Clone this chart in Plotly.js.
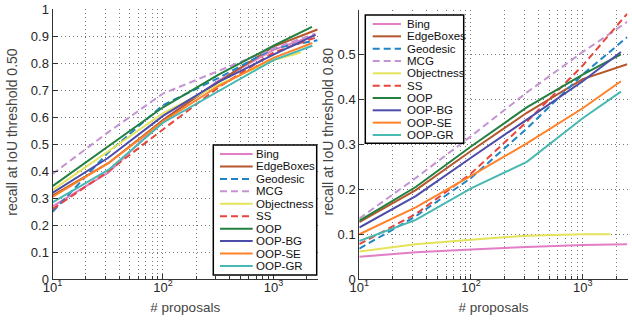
<!DOCTYPE html>
<html><head><meta charset="utf-8">
<script src="https://cdn.plot.ly/plotly-3.0.1.min.js"></script>
<style>html,body{margin:0;padding:0;background:#fff;}#chart{width:632px;height:324px;}</style>
</head><body><div id="chart"></div>
<script>
// ---- data ----
const methods = ['Bing','EdgeBoxes','Geodesic','MCG','Objectness','SS','OOP','OOP-BG','OOP-SE','OOP-GR'];
const proposals = [10, 32, 100, 316, 1000];
const lastProposals50 = [2400, 2500, 2500, 2400, 1770, 2400, 2230, 2400, 2250, 2250];
const lastProposals80 = [2500, 2500, 2500, 2500, 1770, 2500, 2200, 2200, 2200, 2200];

// recall at IoU 0.50 (left)
const bing50       = [0.270, 0.395, 0.590, 0.735, 0.850, 0.905];
const edgeBoxes50  = [0.310, 0.430, 0.590, 0.730, 0.862, 0.925];
const geodesic50   = [0.250, 0.470, 0.645, 0.745, 0.855, 0.885];
const mcg50        = [0.390, 0.545, 0.688, 0.770, 0.855, 0.910];
const objectness50 = [0.330, 0.475, 0.615, 0.720, 0.812, 0.840];
const ss50         = [0.260, 0.400, 0.555, 0.710, 0.840, 0.895];
const oop50        = [0.345, 0.493, 0.637, 0.757, 0.865, 0.935];
const oopBG50      = [0.320, 0.450, 0.605, 0.730, 0.832, 0.905];
const oopSE50      = [0.305, 0.430, 0.585, 0.715, 0.820, 0.875];
const oopGR50      = [0.285, 0.405, 0.580, 0.695, 0.812, 0.865];

// recall at IoU 0.80 (right)
const bing80       = [0.050, 0.060, 0.066, 0.072, 0.076, 0.078];
const edgeBoxes80  = [0.127, 0.198, 0.285, 0.370, 0.445, 0.478];
const geodesic80   = [0.068, 0.140, 0.225, 0.335, 0.455, 0.538];
const mcg80        = [0.135, 0.225, 0.318, 0.415, 0.505, 0.572];
const objectness80 = [0.062, 0.078, 0.088, 0.097, 0.100, 0.100];
const ss80         = [0.078, 0.145, 0.235, 0.350, 0.475, 0.590];
const oop80        = [0.130, 0.205, 0.295, 0.382, 0.455, 0.500];
const oopBG80      = [0.115, 0.185, 0.270, 0.355, 0.440, 0.505];
const oopSE80      = [0.100, 0.160, 0.230, 0.302, 0.380, 0.440];
const oopGR80      = [0.085, 0.132, 0.202, 0.261, 0.358, 0.417];

const xTickVals = [10, 100, 1000];
const xTickText = ['10<sup>1</sup>', '10<sup>2</sup>', '10<sup>3</sup>'];
const xMinorVals = [20,30,40,50,60,70,80,90,200,300,400,500,600,700,800,900,2000];
const xTitle = '# proposals';
const yTitles = ['recall at IoU threshold 0.50', 'recall at IoU threshold 0.80'];

// ---- styles ----
const colors = ['#e27ec4','#b5572c','#1f84c6','#c493d2','#e4e35a','#e8453c','#23803f','#4c4caa','#ff8228','#47b9b2'];
const dashes = ['solid','solid','7px,4px','7px,4px','solid','7px,4px','solid','solid','solid','solid'];

const series50 = [bing50, edgeBoxes50, geodesic50, mcg50, objectness50, ss50, oop50, oopBG50, oopSE50, oopGR50];
const series80 = [bing80, edgeBoxes80, geodesic80, mcg80, objectness80, ss80, oop80, oopBG80, oopSE80, oopGR80];

const traces = [];
methods.forEach((m, i) => {
  traces.push({x: proposals.concat([lastProposals50[i]]), y: series50[i], name: m, type: 'scatter', mode: 'lines',
    xaxis: 'x', yaxis: 'y', showlegend: false, line: {color: colors[i], width: 2, dash: dashes[i]}});
});
methods.forEach((m, i) => {
  traces.push({x: proposals.concat([lastProposals80[i]]), y: series80[i], name: m, type: 'scatter', mode: 'lines',
    xaxis: 'x2', yaxis: 'y2', showlegend: false, line: {color: colors[i], width: 2, dash: dashes[i]}});
});

const W = 632, H = 324;
const px = v => v / W, py = v => 1 - v / H;

const FONT = 'Liberation Sans, Arial, sans-serif';
const gridDash = '1px,3px';
function xAxis(dom, anchor) {
  return {type: 'log', domain: dom, anchor: anchor, range: [1, 3.403],
    tickvals: xTickVals, ticktext: xTickText, ticks: 'inside', ticklen: 5, tickcolor: '#333',
    ticklabelstandoff: -4,
    showline: true, linecolor: '#333', linewidth: 1, zeroline: false,
    showgrid: true, gridcolor: '#777', griddash: gridDash, gridwidth: 1,
    minor: {tickvals: xMinorVals, ticks: 'inside', ticklen: 3, tickcolor: '#333', showgrid: true, gridcolor: '#777', griddash: gridDash, gridwidth: 1},
    tickfont: {family: FONT, size: 13, color: '#262626'},
    title: {text: xTitle, font: {family: FONT, size: 13.5, color: '#444'}, standoff: 8}};
}
function yAxis(dom, anchor, range) {
  return {domain: dom, anchor: anchor, range: range, dtick: 0.1, tick0: 0,
    ticks: 'inside', ticklen: 5, tickcolor: '#333',
    showline: true, linecolor: '#333', linewidth: 1, zeroline: false,
    showgrid: true, gridcolor: '#777', griddash: gridDash, gridwidth: 1,
    tickfont: {family: FONT, size: 13, color: '#262626'}};
}

// ---- custom legends (compact, MATLAB-like) ----
const shapes = [], annotations = [];
function legend(box, lineX0, lineX1, textX, row0, rowStep) {
  shapes.push({type: 'rect', xref: 'paper', yref: 'paper', x0: px(box[0]), x1: px(box[1]), y0: py(box[2]), y1: py(box[3]),
    line: {color: '#000', width: 1.5}, fillcolor: '#fff', layer: 'above'});
  methods.forEach((m, i) => {
    const yy = row0 + i * rowStep;
    shapes.push({type: 'line', xref: 'paper', yref: 'paper', x0: px(lineX0), x1: px(lineX1), y0: py(yy), y1: py(yy),
      line: {color: colors[i], width: 2, dash: dashes[i]}, layer: 'above'});
    annotations.push({xref: 'paper', yref: 'paper', x: px(textX), y: py(yy), xanchor: 'left', yanchor: 'middle',
      text: m, showarrow: false, font: {family: FONT, size: 11.5, color: '#111'}, borderpad: 0, borderwidth: 0});
  });
}
legend([213.3, 316.7, 145, 275], 220, 252.7, 256, 154, 12.44);
legend([365.3, 463.7, 15, 143.3], 372.7, 401, 407, 24, 12.33);

// y axis titles (rotated), positioned like the reference
[[12, 131.7], [327.7, 131.7]].forEach((p, i) => {
  annotations.push({xref: 'paper', yref: 'paper', x: px(p[0]), y: py(p[1]), xanchor: 'center', yanchor: 'middle',
    text: yTitles[i], textangle: -90, showarrow: false, font: {family: FONT, size: 14, color: '#444'}});
});

const layout = {
  width: W, height: H, margin: {l: 0, r: 0, t: 0, b: 0},
  paper_bgcolor: '#fff', plot_bgcolor: '#fff', showlegend: false,
  xaxis: xAxis([px(52.5), px(318)], 'y'),
  yaxis: yAxis([py(279.3), py(9.3)], 'x', [0, 1]),
  xaxis2: xAxis([px(359.3), px(627.7)], 'y2'),
  yaxis2: yAxis([py(279.3), py(10)], 'x2', [0, 0.5984]),
  shapes: shapes, annotations: annotations
};
Plotly.newPlot('chart', traces, layout, {staticPlot: true, displayModeBar: false});
</script></body></html>
